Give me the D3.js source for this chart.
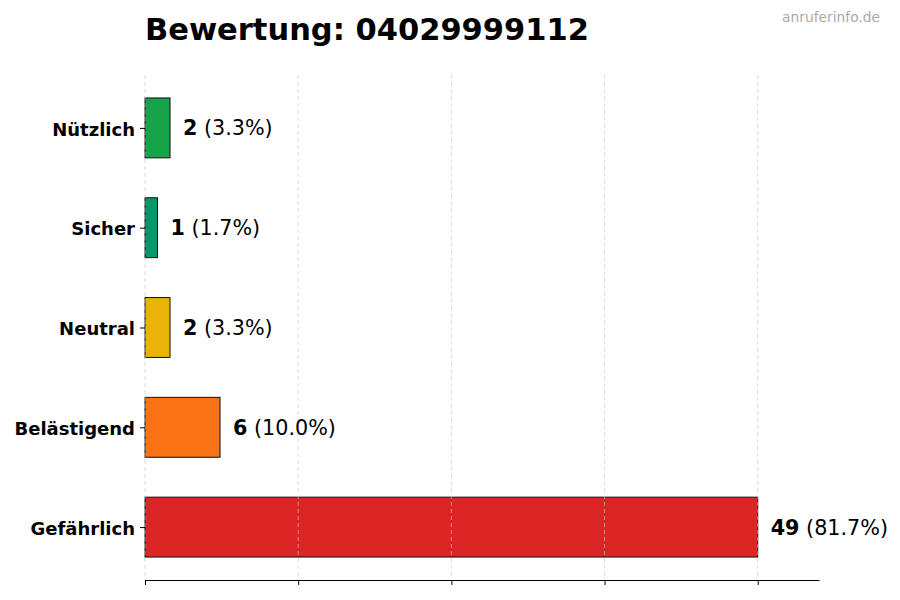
<!DOCTYPE html>
<html>
<head>
<meta charset="utf-8">
<script src="https://cdn.jsdelivr.net/npm/d3@7"></script>
<style>
  body { margin: 0; background: #fff; }
  svg { display: block; font-family: "DejaVu Sans", sans-serif; }
</style>
</head>
<body>
<div id="chart"></div>
<script>
// Data, bottom to top
const categories = ["Gefährlich", "Belästigend", "Neutral", "Sicher", "Nützlich"];
const counts = [49, 6, 2, 1, 2];
const percents = ["81.7%", "10.0%", "3.3%", "1.7%", "3.3%"];
const barColors = ["#dc2626", "#f97316", "#eab308", "#059669", "#16a34a"];

const width = 900, height = 600;
const plot = { left: 145, right: 819, top: 75, bottom: 580 };

const svg = d3.select("#chart").append("svg")
  .attr("width", width)
  .attr("height", height);

const maxVal = d3.max(counts);

const x = d3.scaleLinear()
  .domain([0, maxVal * 1.1])
  .range([plot.left, plot.right]);

const y = d3.scaleLinear()
  .domain([-0.53, categories.length - 1 + 0.53])
  .range([plot.bottom, plot.top]);

const barH = y(0) - y(0.6);
const gridTicks = d3.range(0, 5).map(i => maxVal * i / 4);

// Bars
svg.append("g")
  .selectAll("rect")
  .data(categories)
  .join("rect")
  .attr("x", x(0))
  .attr("y", (d, i) => y(i) - barH / 2)
  .attr("width", (d, i) => x(counts[i]) - x(0))
  .attr("height", barH)
  .attr("fill", (d, i) => barColors[i])
  .attr("stroke", "#111")
  .attr("stroke-width", 1);

// Grid (drawn over the bars)
svg.append("g")
  .selectAll("line")
  .data(gridTicks)
  .join("line")
  .attr("x1", d => x(d))
  .attr("x2", d => x(d))
  .attr("y1", plot.top)
  .attr("y2", plot.bottom)
  .attr("stroke", "#c8c8c8")
  .attr("stroke-opacity", 0.8)
  .attr("stroke-width", 0.8)
  .attr("stroke-dasharray", "4,3");

// Bottom axis, no labels
const xAxis = svg.append("g")
  .attr("transform", `translate(0,${plot.bottom})`)
  .call(d3.axisBottom(x).tickValues(gridTicks).tickSize(5).tickFormat("").tickSizeOuter(0));
xAxis.select(".domain").attr("stroke", "#000").attr("stroke-width", 1.2);
xAxis.selectAll(".tick line").attr("stroke", "#000");

// Left axis: ticks and labels only
const yAxis = svg.append("g")
  .attr("transform", `translate(${plot.left},0)`)
  .call(d3.axisLeft(y)
    .tickValues(d3.range(categories.length))
    .tickFormat(i => categories[i])
    .tickSize(5)
    .tickPadding(5));
yAxis.select(".domain").remove();
yAxis.selectAll(".tick line").attr("stroke", "#000");
yAxis.selectAll(".tick text")
  .attr("fill", "#000")
  .attr("dy", "0.4em")
  .style("font-family", "'DejaVu Sans', sans-serif")
  .style("font-size", "18px")
  .style("font-weight", "bold");

// Value labels
const labels = svg.append("g")
  .selectAll("text")
  .data(categories)
  .join("text")
  .attr("x", (d, i) => x(counts[i]) + 13)
  .attr("y", (d, i) => y(i))
  .attr("dy", "0.36em")
  .style("font-size", "20.7px")
  .attr("fill", "#000");
labels.append("tspan")
  .style("font-weight", "bold")
  .text((d, i) => counts[i]);
labels.append("tspan")
  .text((d, i) => ` (${percents[i]})`);

// Title
svg.append("text")
  .attr("x", 145)
  .attr("y", 40)
  .style("font-size", "30.5px")
  .style("font-weight", "bold")
  .attr("fill", "#000")
  .text("Bewertung: 04029999112");

// Watermark
svg.append("text")
  .attr("x", 880)
  .attr("y", 22)
  .attr("text-anchor", "end")
  .style("font-size", "13.8px")
  .attr("fill", "#aaaaaa")
  .text("anruferinfo.de");
</script>
</body>
</html>
